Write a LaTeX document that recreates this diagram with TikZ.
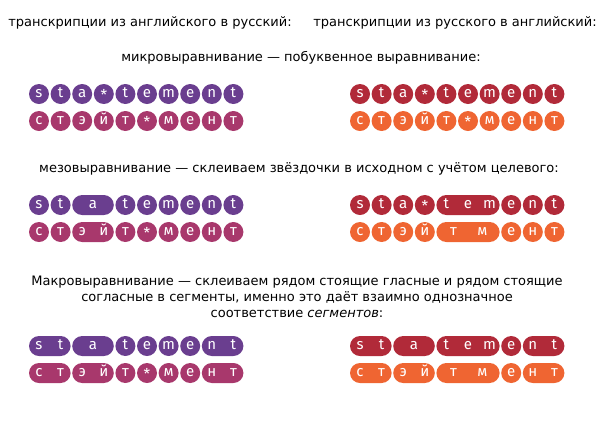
\documentclass[tikz,border=0pt]{standalone}
\usepackage{fontspec}
\setmainfont{DejaVu Sans}
\newfontfamily\tokfont{Fira Sans}
\definecolor{engpurple}{RGB}{106,62,143}
\definecolor{rusberry}{RGB}{168,56,108}
\definecolor{engred}{RGB}{177,42,57}
\definecolor{rusorange}{RGB}{239,101,50}
\newcommand{\gapmark}{\raisebox{-0.45ex}{*}}
% backgrounds of one row: list of first/last slot
\newcommand{\tokrow}[4]{\foreach \a/\b in {#4}
  \fill[#3, tok] ({#1+\a*21.6-10},{#2-10}) rectangle ({#1+\b*21.6+10},{#2+10});}
% letters of one row: list of slot/letter
\newcommand{\letrow}[3]{\foreach \p/\ch in {#3}
  \node[letter] at ({#1+\p*21.6},{#2}) {\ch};}

\begin{document}
\begin{tikzpicture}[x=1pt, y=-1pt,
  tok/.style={rounded corners=10pt},
  letter/.style={text=white, font=\tokfont\fontsize{15}{15}\selectfont, inner sep=0pt, text height=1.1ex, text depth=0pt},
  caption/.style={font=\fontsize{13}{16}\selectfont, align=center, inner sep=0pt}]
  \useasboundingbox (0,0) rectangle (609,440);

  % headings
  \node[caption] (titleeng) at (150,23) {транскрипции из английского в русский:};
  \node[caption] (titlerus) at (455,23) {транскрипции из русского в английский:};

  % micro
  \node[caption] (micro) at (301,58) {микровыравнивание — побуквенное выравнивание:};
  \tokrow{39}{94}{engpurple}{0/0,1/1,2/2,3/3,4/4,5/5,6/6,7/7,8/8,9/9}
  \letrow{39}{94}{0/s,1/t,2/a,3/\gapmark,4/t,5/e,6/m,7/e,8/n,9/t}
  \tokrow{39}{121}{rusberry}{0/0,1/1,2/2,3/3,4/4,5/5,6/6,7/7,8/8,9/9}
  \letrow{39}{121}{0/с,1/т,2/э,3/й,4/т,5/\gapmark,6/м,7/е,8/н,9/т}
  \tokrow{360}{94}{engred}{0/0,1/1,2/2,3/3,4/4,5/5,6/6,7/7,8/8,9/9}
  \letrow{360}{94}{0/s,1/t,2/a,3/\gapmark,4/t,5/e,6/m,7/e,8/n,9/t}
  \tokrow{360}{121}{rusorange}{0/0,1/1,2/2,3/3,4/4,5/5,6/6,7/7,8/8,9/9}
  \letrow{360}{121}{0/с,1/т,2/э,3/й,4/т,5/\gapmark,6/м,7/е,8/н,9/т}

  % meso
  \node[caption] (meso) at (299,169) {мезовыравнивание — склеиваем звёздочки в исходном с учётом целевого:};
  \tokrow{39}{205}{engpurple}{0/0,1/1,2/3,4/4,5/5,6/6,7/7,8/8,9/9}
  \letrow{39}{205}{0/s,1/t,2.5/a,4/t,5/e,6/m,7/e,8/n,9/t}
  \tokrow{39}{232}{rusberry}{0/0,1/1,2/3,4/4,5/5,6/6,7/7,8/8,9/9}
  \letrow{39}{232}{0/с,1/т,2/э,3/й,4/т,5/\gapmark,6/м,7/е,8/н,9/т}
  \tokrow{360}{205}{engred}{0/0,1/1,2/2,3/3,4/6,7/7,8/8,9/9}
  \letrow{360}{205}{0/s,1/t,2/a,3/\gapmark,4/t,5/e,6/m,7/e,8/n,9/t}
  \tokrow{360}{232}{rusorange}{0/0,1/1,2/2,3/3,4/6,7/7,8/8,9/9}
  \letrow{360}{232}{0/с,1/т,2/э,3/й,4.33/т,5.67/м,7/е,8/н,9/т}

  % macro
  \node[caption] (macro) at (297,297) {Макровыравнивание — склеиваем рядом стоящие гласные и рядом стоящие\\согласные в сегменты, именно это даёт взаимно однозначное\\соответствие \textit{сегментов}:};
  \tokrow{39}{346}{engpurple}{0/1,2/3,4/4,5/5,6/6,7/7,8/9}
  \letrow{39}{346}{0/s,1/t,2.5/a,4/t,5/e,6/m,7/e,8/n,9/t}
  \tokrow{39}{373}{rusberry}{0/1,2/3,4/4,5/5,6/6,7/7,8/9}
  \letrow{39}{373}{0/с,1/т,2/э,3/й,4/т,5/\gapmark,6/м,7/е,8/н,9/т}
  \tokrow{360}{346}{engred}{0/1,2/3,4/6,7/7,8/9}
  \letrow{360}{346}{0/s,1/t,2.5/a,4/t,5/e,6/m,7/e,8/n,9/t}
  \tokrow{360}{373}{rusorange}{0/1,2/3,4/6,7/7,8/9}
  \letrow{360}{373}{0/с,1/т,2/э,3/й,4.33/т,5.67/м,7/е,8/н,9/т}
\end{tikzpicture}
\end{document}
